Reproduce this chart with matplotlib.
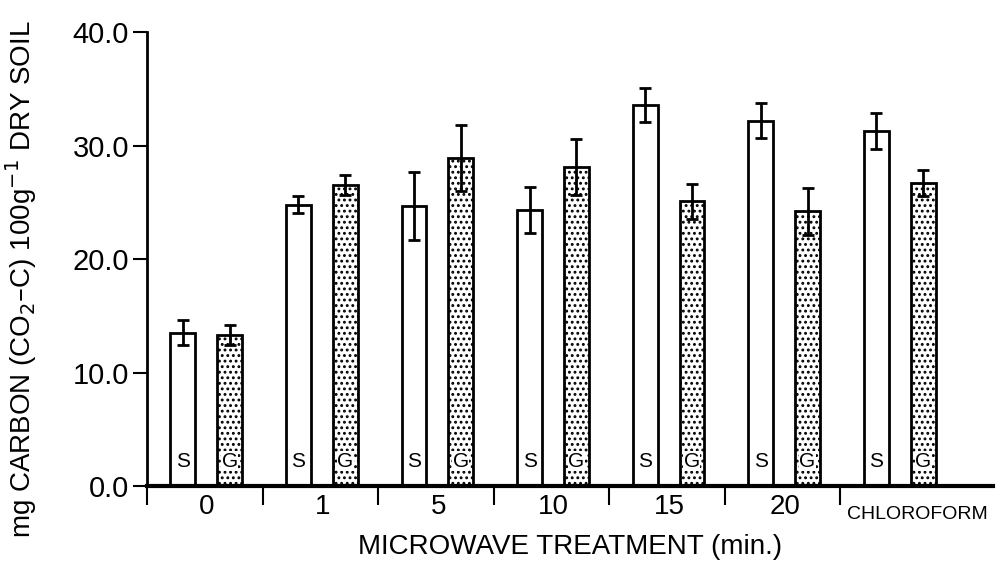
import matplotlib.pyplot as plt
import numpy as np

plt.rcParams['font.family'] = ['Liberation Sans', 'DejaVu Sans']
plt.rcParams['hatch.linewidth'] = 1.3

# data
groups = ['0', '1', '5', '10', '15', '20', 'CHLOROFORM']
soil_s = [13.5, 24.8, 24.7, 24.3, 33.6, 32.2, 31.3]
soil_s_err = [1.1, 0.75, 3.0, 2.05, 1.5, 1.55, 1.6]
soil_g = [13.3, 26.5, 28.9, 28.1, 25.1, 24.2, 26.7]
soil_g_err = [0.9, 0.9, 2.9, 2.5, 1.55, 2.1, 1.15]

x = np.arange(len(groups))
w = 0.215

fig = plt.figure(figsize=(9.96, 5.66), dpi=100)
ax = fig.add_axes([0.1476, 0.1413, 0.8494, 0.8021])

err_kw = dict(ecolor='black', elinewidth=2, capsize=4.5, capthick=2)
ax.bar(x + 0.31, soil_s, w, color='white', edgecolor='black', linewidth=2,
       yerr=soil_s_err, error_kw=err_kw, zorder=2)
ax.bar(x + 0.715, soil_g, w, color='white', edgecolor='black', linewidth=2,
       hatch='...', yerr=soil_g_err, error_kw=err_kw, zorder=2)

for xi in x:
    ax.text(xi + 0.31, 2.2, 'S', ha='center', va='center', fontsize=15,
            zorder=3)
    ax.text(xi + 0.715, 2.2, 'G', ha='center', va='center', fontsize=15,
            zorder=3,
            bbox=dict(facecolor='white', edgecolor='none', pad=0.3))

ax.set_xlim(0, 7.32)
ax.set_ylim(0, 40)

ax.spines['top'].set_visible(False)
ax.spines['right'].set_visible(False)
ax.spines['left'].set_linewidth(2)
ax.spines['bottom'].set_linewidth(3)

ax.set_yticks([0, 10, 20, 30, 40])
ax.set_yticklabels(['0.0', '10.0', '20.0', '30.0', '40.0'])
ax.tick_params(axis='y', direction='out', length=10, width=1.5,
               labelsize=21, pad=3)

# group dividers below the axis, labels in between
ax.set_xticks(x)
ax.set_xticklabels([])
ax.tick_params(axis='x', which='major', direction='out', length=14, width=1.5)
ax.set_xticks(x[:-1] + 0.52, minor=True)
ax.set_xticklabels(groups[:-1], minor=True)
ax.tick_params(axis='x', which='minor', length=0, labelsize=20, pad=6)
ax.text(6.06, -2.55, groups[-1], ha='left', va='center', fontsize=14,
        transform=ax.transData)

ax.set_xlabel('MICROWAVE TREATMENT (min.)', fontsize=20, labelpad=10)
ax.set_ylabel('mg CARBON (CO$_2$–C) 100g$^{-1}$ DRY SOIL', fontsize=20)
ax.yaxis.set_label_coords(-0.128, 0.455)

fig.savefig('out.png', dpi=100)
